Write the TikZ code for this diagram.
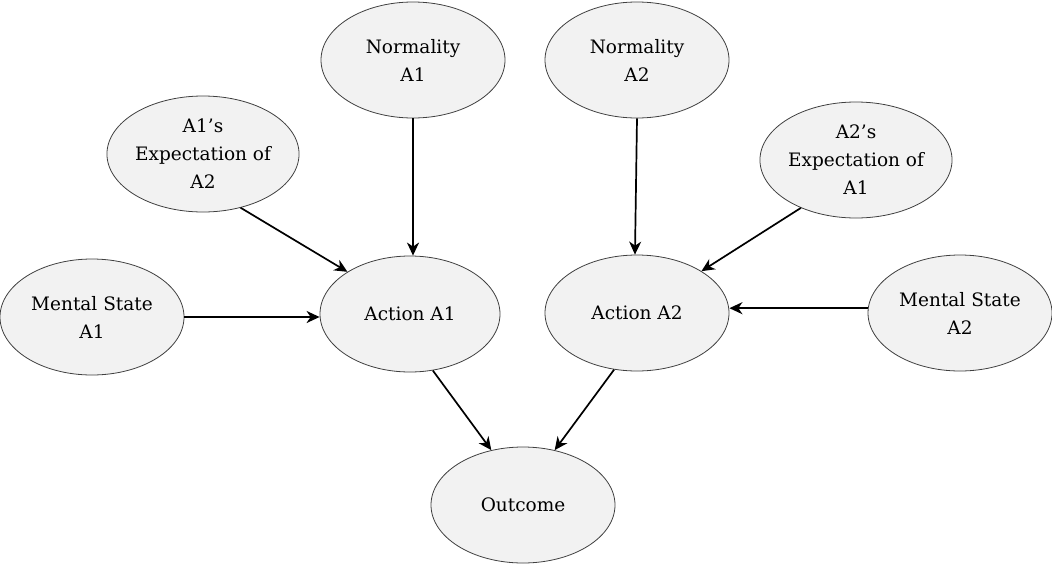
\documentclass[tikz,border=0pt]{standalone}
\usepackage{fontspec}
\setmainfont{DejaVu Serif}
\usetikzlibrary{shapes.geometric,arrows.meta}
\definecolor{nodefill}{HTML}{F2F2F2}
\definecolor{nodeline}{HTML}{404040}
\tikzset{
  bubble/.style={ellipse, draw=nodeline, line width=0.8pt, fill=nodefill,
    inner sep=0pt, minimum width=184pt, minimum height=116pt, align=center,
    font={\fontsize{18.5}{28}\selectfont}, text=black},
  link/.style={line width=1.7pt, -{Stealth[length=13pt,width=12pt,inset=4pt]}}
}
\begin{document}
\begin{tikzpicture}[x=1pt,y=-1pt]
\useasboundingbox (0,0) rectangle (1052,565);
\node[bubble] (normA1) at (413,60) {Normality\\A1};
\node[bubble] (normA2) at (637,60) {Normality\\A2};
\node[bubble] (expA1) at (203,154) {A1’s\\Expectation of\\A2};
\node[bubble] (expA2) at (856,160) {A2’s\\Expectation of\\A1};
\node[bubble] (msA1) at (92,317) {Mental State\\A1};
\node[bubble, minimum width=180pt] (actA1) at (410,314) {Action A1};
\node[bubble] (actA2) at (637,313) {Action A2};
\node[bubble] (msA2) at (960,313) {Mental State\\A2};
\node[bubble] (outc) at (523,505) {Outcome};

\draw[link] (normA1.south) -- (normA1.south |- actA1.north);
\draw[link] (expA1.-55) -- (actA1.146);
\draw[link] (msA1.east) -- (msA1.east -| actA1.west);
\draw[link] (actA1.-68) -- (outc.120);
\draw[link] (actA2.-112) -- (outc.60);
\draw[link] (normA2.south) -- (actA2.92);
\draw[link] (expA2.-139) -- (actA2.33);
\draw[link] (msA2.177) -- (msA2.177 -| actA2.east);
\end{tikzpicture}
\end{document}
